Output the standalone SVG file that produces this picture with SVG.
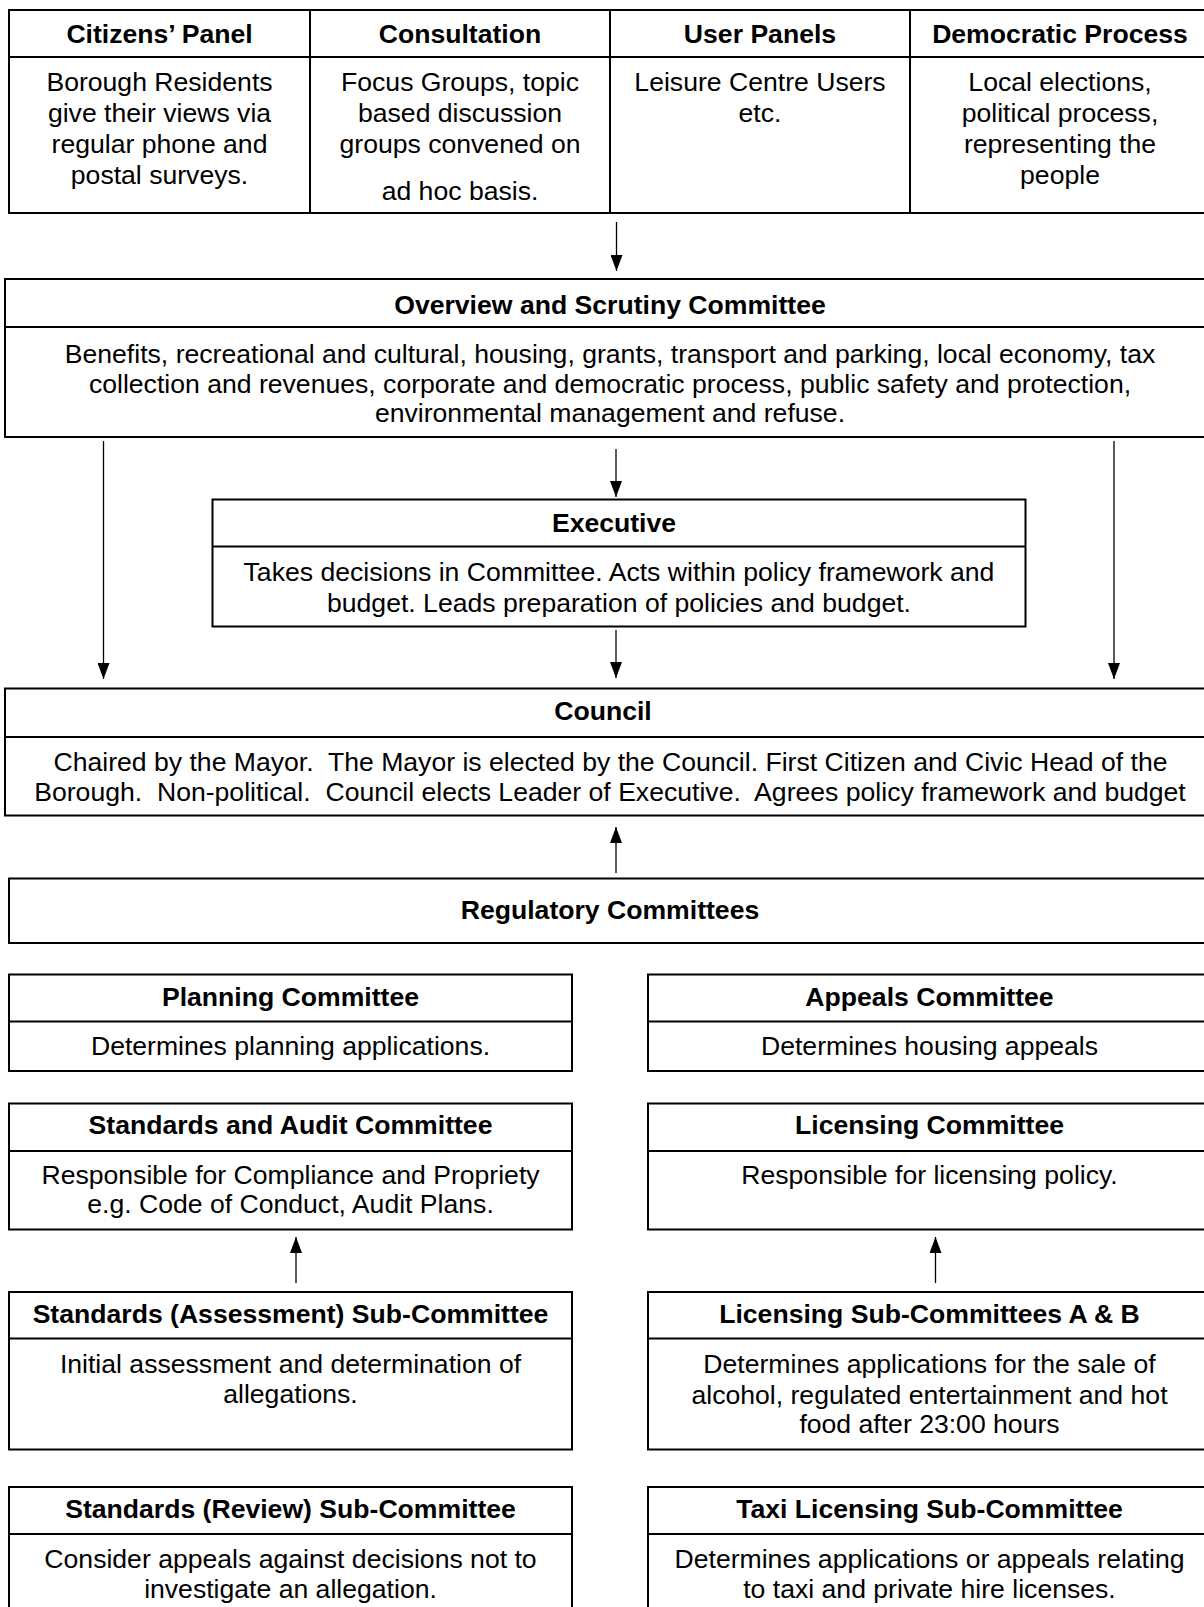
<svg xmlns="http://www.w3.org/2000/svg" width="1204" height="1607" viewBox="0 0 1204 1607">
<style>
  .box { fill: #fff; stroke: #000; stroke-width: 2; }
  .sep { stroke: #000; stroke-width: 2; }
  .t { font-family: "Liberation Sans", Arial, sans-serif; font-size: 26.6px; font-weight: bold; text-anchor: middle; fill: #000; }
  .b { font-family: "Liberation Sans", Arial, sans-serif; font-size: 26.6px; text-anchor: middle; fill: #000; }
  .arr { stroke: #000; stroke-width: 1.3; fill: none; }
</style>
<defs>
  <marker id="ahd" markerUnits="userSpaceOnUse" markerWidth="16" markerHeight="12" viewBox="0 0 16 12" refX="16" refY="6" orient="auto">
    <path d="M0,0 L16,6 L0,12 Z" fill="#000"/>
  </marker>
</defs>

<g id="top-table">
  <rect class="box" x="9" y="10" width="1203" height="203"/>
  <line class="sep" x1="9" y1="57" x2="1212" y2="57"/>
  <line class="sep" x1="310" y1="10" x2="310" y2="213"/>
  <line class="sep" x1="610" y1="10" x2="610" y2="213"/>
  <line class="sep" x1="910" y1="10" x2="910" y2="213"/>
  <g id="citizens-panel">
    <text class="t" x="159.5" y="43">Citizens’ Panel</text>
    <text class="b" x="159.5" y="91">Borough Residents</text>
    <text class="b" x="159.5" y="122">give their views via</text>
    <text class="b" x="159.5" y="153">regular phone and</text>
    <text class="b" x="159.5" y="184">postal surveys.</text>
  </g>
  <g id="consultation">
    <text class="t" x="460" y="43">Consultation</text>
    <text class="b" x="460" y="91">Focus Groups, topic</text>
    <text class="b" x="460" y="122">based discussion</text>
    <text class="b" x="460" y="153">groups convened on</text>
    <text class="b" x="460" y="199.5">ad hoc basis.</text>
  </g>
  <g id="user-panels">
    <text class="t" x="760" y="43">User Panels</text>
    <text class="b" x="760" y="91">Leisure Centre Users</text>
    <text class="b" x="760" y="122">etc.</text>
  </g>
  <g id="democratic-process">
    <text class="t" x="1060" y="43">Democratic Process</text>
    <text class="b" x="1060" y="91">Local elections,</text>
    <text class="b" x="1060" y="122">political process,</text>
    <text class="b" x="1060" y="153">representing the</text>
    <text class="b" x="1060" y="184">people</text>
  </g>
</g>

<g id="overview">
  <rect class="box" x="5" y="279" width="1210" height="158"/>
  <line class="sep" x1="5" y1="327" x2="1215" y2="327"/>
  <text class="t" x="610" y="313.5">Overview and Scrutiny Committee</text>
  <text class="b" x="610" y="362.5">Benefits, recreational and cultural, housing, grants, transport and parking, local economy, tax</text>
  <text class="b" x="610" y="392.5">collection and revenues, corporate and democratic process, public safety and protection,</text>
  <text class="b" x="610" y="422">environmental management and refuse.</text>
</g>

<g id="executive">
  <rect class="box" x="212.5" y="499.5" width="813" height="127"/>
  <line class="sep" x1="212.5" y1="546.5" x2="1025.5" y2="546.5"/>
  <text class="t" x="614" y="531.5">Executive</text>
  <text class="b" x="619" y="580.5">Takes decisions in Committee. Acts within policy framework and</text>
  <text class="b" x="619" y="611.5">budget. Leads preparation of policies and budget.</text>
</g>

<g id="council">
  <rect class="box" x="5" y="688.5" width="1210" height="127"/>
  <line class="sep" x1="5" y1="737" x2="1215" y2="737"/>
  <text class="t" x="603" y="720">Council</text>
  <text class="b" x="610.5" y="770.5" xml:space="preserve">Chaired by the Mayor.  The Mayor is elected by the Council. First Citizen and Civic Head of the</text>
  <text class="b" x="610" y="801" xml:space="preserve">Borough.  Non-political.  Council elects Leader of Executive.  Agrees policy framework and budget</text>
</g>

<g id="regulatory">
  <rect class="box" x="9" y="878.5" width="1203" height="64.5"/>
  <text class="t" x="610" y="919">Regulatory Committees</text>
</g>

<g id="planning">
  <rect class="box" x="9" y="974.5" width="563" height="96.5"/>
  <line class="sep" x1="9" y1="1021.5" x2="572" y2="1021.5"/>
  <text class="t" x="290.5" y="1006">Planning Committee</text>
  <text class="b" x="290.5" y="1055">Determines planning applications.</text>
</g>

<g id="appeals">
  <rect class="box" x="648" y="974.5" width="564" height="96.5"/>
  <line class="sep" x1="648" y1="1021.5" x2="1212" y2="1021.5"/>
  <text class="t" x="929.5" y="1006">Appeals Committee</text>
  <text class="b" x="929.5" y="1055">Determines housing appeals</text>
</g>

<g id="standards-audit">
  <rect class="box" x="9" y="1103.5" width="563" height="126"/>
  <line class="sep" x1="9" y1="1151" x2="572" y2="1151"/>
  <text class="t" x="290.5" y="1134">Standards and Audit Committee</text>
  <text class="b" x="290.5" y="1183.5">Responsible for Compliance and Propriety</text>
  <text class="b" x="290.5" y="1213">e.g. Code of Conduct, Audit Plans.</text>
</g>

<g id="licensing">
  <rect class="box" x="648" y="1103.5" width="564" height="126"/>
  <line class="sep" x1="648" y1="1151" x2="1212" y2="1151"/>
  <text class="t" x="929.5" y="1134">Licensing Committee</text>
  <text class="b" x="929.5" y="1183.5">Responsible for licensing policy.</text>
</g>

<g id="standards-assessment">
  <rect class="box" x="9" y="1292" width="563" height="157.5"/>
  <line class="sep" x1="9" y1="1338.5" x2="572" y2="1338.5"/>
  <text class="t" x="290.5" y="1322.5">Standards (Assessment) Sub-Committee</text>
  <text class="b" x="290.5" y="1373">Initial assessment and determination of</text>
  <text class="b" x="290.5" y="1402.5">allegations.</text>
</g>

<g id="licensing-sub">
  <rect class="box" x="648" y="1292" width="564" height="157.5"/>
  <line class="sep" x1="648" y1="1338.5" x2="1212" y2="1338.5"/>
  <text class="t" x="929.5" y="1322.5">Licensing Sub-Committees A &amp; B</text>
  <text class="b" x="929.5" y="1373">Determines applications for the sale of</text>
  <text class="b" x="929.5" y="1403.5">alcohol, regulated entertainment and hot</text>
  <text class="b" x="929.5" y="1433">food after 23:00 hours</text>
</g>

<g id="standards-review">
  <rect class="box" x="9" y="1487" width="563" height="140"/>
  <line class="sep" x1="9" y1="1534" x2="572" y2="1534"/>
  <text class="t" x="290.5" y="1517.5">Standards (Review) Sub-Committee</text>
  <text class="b" x="290.5" y="1567.5">Consider appeals against decisions not to</text>
  <text class="b" x="290.5" y="1597.5">investigate an allegation.</text>
</g>

<g id="taxi-licensing">
  <rect class="box" x="648" y="1487" width="564" height="140"/>
  <line class="sep" x1="648" y1="1534" x2="1212" y2="1534"/>
  <text class="t" x="929.5" y="1517.5">Taxi Licensing Sub-Committee</text>
  <text class="b" x="929.5" y="1567.5">Determines applications or appeals relating</text>
  <text class="b" x="929.5" y="1597.5">to taxi and private hire licenses.</text>
</g>

<g id="connectors">
  <line class="arr" x1="616.5" y1="222" x2="616.5" y2="271" marker-end="url(#ahd)"/>
  <line class="arr" x1="616" y1="449" x2="616" y2="497" marker-end="url(#ahd)"/>
  <line class="arr" x1="103.5" y1="441" x2="103.5" y2="679" marker-end="url(#ahd)"/>
  <line class="arr" x1="1114" y1="441" x2="1114" y2="679" marker-end="url(#ahd)"/>
  <line class="arr" x1="616" y1="630" x2="616" y2="678" marker-end="url(#ahd)"/>
  <line class="arr" x1="616" y1="873" x2="616" y2="827" marker-end="url(#ahd)"/>
  <line class="arr" x1="296" y1="1283" x2="296" y2="1237" marker-end="url(#ahd)"/>
  <line class="arr" x1="935.5" y1="1283" x2="935.5" y2="1237" marker-end="url(#ahd)"/>
</g>
</svg>
